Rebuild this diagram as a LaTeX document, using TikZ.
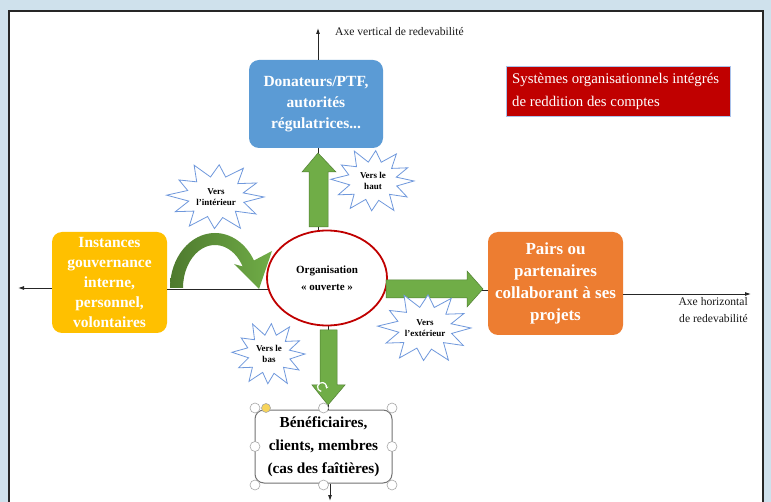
\documentclass[tikz,border=0pt]{standalone}
\usepackage{fontspec}
\setmainfont{Liberation Serif}
\usetikzlibrary{shapes.geometric,arrows.meta}
\definecolor{bgblue}{HTML}{CFE1EC}
\definecolor{boxblue}{HTML}{5B9BD5}
\definecolor{boxred}{HTML}{C00000}
\definecolor{boxyellow}{HTML}{FFC000}
\definecolor{boxorange}{HTML}{ED7D31}
\definecolor{agreen}{HTML}{70AD47}
\definecolor{dgreen}{HTML}{507E32}
\definecolor{darkgreen}{HTML}{4E7A2E}
\definecolor{burstblue}{HTML}{6F98DC}
\definecolor{handlegray}{HTML}{A6A6A6}
\definecolor{handleyellow}{HTML}{F7D45A}
\newcommand\myburst[6]{% name, cx, cy, rx, ry, text
  \draw[burstline, shift={(#2,#3)}] (0:#4 and #5)
    \foreach \ang/\fac in {15/0.6, 31/0.97, 46/0.58, 61/1.05, 77/0.62, 92/0.93, 107/0.6, 123/1.02,
      138/0.62, 153/0.95, 168/0.58, 183/1.03, 198/0.62, 213/0.92, 228/0.6, 244/1.04, 259/0.6,
      274/0.95, 289/0.62, 304/1.02, 319/0.6, 334/0.94, 348/0.58}
    { -- (\ang:{#4*\fac} and {#5*\fac}) } -- cycle;
  \node[bursttext] (#1) at (#2,#3) {#6};
}
\begin{document}
\begin{tikzpicture}[x=1pt,y=-1pt,
  box/.style={rectangle, rounded corners=10pt, text=white, align=center,
    font=\fontsize{15.5}{21}\selectfont\bfseries, inner sep=2pt},
  burstline/.style={draw=burstblue, fill=white, line width=0.8pt, line join=miter},
  bursttext/.style={align=center, inner sep=0pt, font=\fontsize{9}{11.5}\selectfont\bfseries},
  axis/.style={black!85, line width=0.9pt},
  axarrow/.style={axis, -{Latex[length=6pt,width=4pt]}},
  garrow/.style={fill=agreen, draw=dgreen, line width=0.5pt},
  handle/.style={circle, draw=handlegray, fill=white, line width=0.6pt, minimum size=10pt, inner sep=0pt},
  axlabel/.style={font=\fontsize{11.6}{17}\selectfont, text=black!90, inner sep=0pt}
]
\useasboundingbox (0,0) rectangle (771,502);
\fill[bgblue] (0,0) rectangle (771,502);
\fill[white] (9,11) rectangle (763,502);
\draw[black!85, line width=1.3pt] (9,502) -- (9,11) -- (763,11) -- (763,502);

% boxes
\node[box, fill=boxblue, minimum width=134pt, minimum height=88pt] (donors) at (316,104)
  {Donateurs/PTF,\\autorités\\régulatrices...};
\node[rectangle, fill=boxred, draw=burstblue!60, line width=0.5pt, minimum width=224pt, minimum height=50pt] (title) at (618,91) {};
\node[text=white, align=left, font=\fontsize{14.8}{23}\selectfont, inner sep=0pt, anchor=west] (titletext) at (512,91)
  {Systèmes organisationnels intégrés\\de reddition des comptes};
\node[box, fill=boxyellow, minimum width=115pt, minimum height=101pt, font=\fontsize{15.5}{20}\selectfont\bfseries] (gov) at (109.5,282.5)
  {Instances\\gouvernance\\interne,\\personnel,\\volontaires};
\node[box, fill=boxorange, minimum width=135pt, minimum height=103pt, font=\fontsize{17}{22}\selectfont\bfseries] (peer) at (555.5,283.5)
  {Pairs ou\\partenaires\\collaborant à ses\\projets};
\node[rectangle, rounded corners=9pt, draw=black!55, line width=1pt, fill=white, minimum width=137pt, minimum height=73pt,
  align=center, font=\fontsize{15.3}{23}\selectfont\bfseries, inner sep=0pt] (benef) at (323.5,446.5)
  {Bénéficiaires,\\clients, membres\\(cas des faîtières)};

% axes
\coordinate (vtop) at (318,28);
\coordinate (vbot) at (330,501);
\coordinate (hleft) at (18,288);
\coordinate (hright) at (751,294);
\coordinate (hmid) at (0,289);
\coordinate (hmid2) at (0,290);

\draw[axarrow] (vtop |- donors.north) -- (vtop);
\draw[axis] (donors.south -| vtop) -- (vtop |- 0,240);
\draw[axis] (328,300) -- (benef.north -| 328,0);
\draw[axarrow] (benef.south -| vbot) -- (vbot);
\draw[axarrow] (gov.west |- hleft) -- (hleft);
\draw[axis] (gov.east |- hmid) -- (300,289);
\draw[axis] (350,290) -- (peer.west |- hmid2);
\draw[axarrow] (peer.east |- hright) -- (hright);

\node[axlabel, anchor=west] (vlabel) at (335,32) {Axe vertical de redevabilité};
\node[axlabel, anchor=north east, align=right] (hlabel) at (748,297) {Axe horizontal\\de redevabilité};

% organisation
\node[ellipse, draw=boxred, line width=1.8pt, fill=white, minimum width=120pt, minimum height=95pt,
  align=center, font=\fontsize{11}{17}\selectfont\bfseries, inner sep=0pt] (org) at (327,278)
  {Organisation\\« ouverte »};

% green arrows
\draw[garrow] (309,227) -- (309,172) -- (302,172) -- (318,153) -- (336,172) -- (328,172) -- (328,227) -- cycle;
\draw[garrow] (386,280) -- (467,280) -- (467,271) -- (483,289) -- (467,307) -- (467,298) -- (386,298) -- cycle;
\draw[garrow] (320,330) -- (337,330) -- (337,385) -- (345,385) -- (328,405) -- (312,385) -- (320,385) -- cycle;
\draw[white, line width=1.2pt, -{Stealth[length=2.5pt,width=3.5pt]}] (322,387) ++(100:4.5) arc[start angle=100, end angle=380, radius=4.5];

% curved arrow
\shade[left color=darkgreen, right color=agreen]
  (170,288) arc[start angle=180, end angle=330, x radius=45, y radius=55]
  -- (272,251) -- (259,289) -- (234,264) -- (242.7,266.5)
  arc[start angle=330, end angle=180, x radius=32, y radius=43] -- cycle;

% starbursts
\myburst{b1}{216}{197}{48}{34}{Vers\\l’intérieur}
\myburst{b2}{373}{181}{41}{32}{Vers le\\haut}
\myburst{b3}{425}{328}{46}{35}{Vers\\l’extérieur}
\myburst{b4}{269}{354}{36}{32}{Vers le\\bas}

% selection handles
\foreach \hx/\hy [count=\i] in {255/408, 323.5/408, 392/408, 255/446.5, 392/446.5, 255/485, 323.5/485, 392/485}
  \node[handle] (h\i) at (\hx,\hy) {};
\node[handle, fill=handleyellow, minimum size=9pt] (hy) at (266,408) {};
\end{tikzpicture}
\end{document}
